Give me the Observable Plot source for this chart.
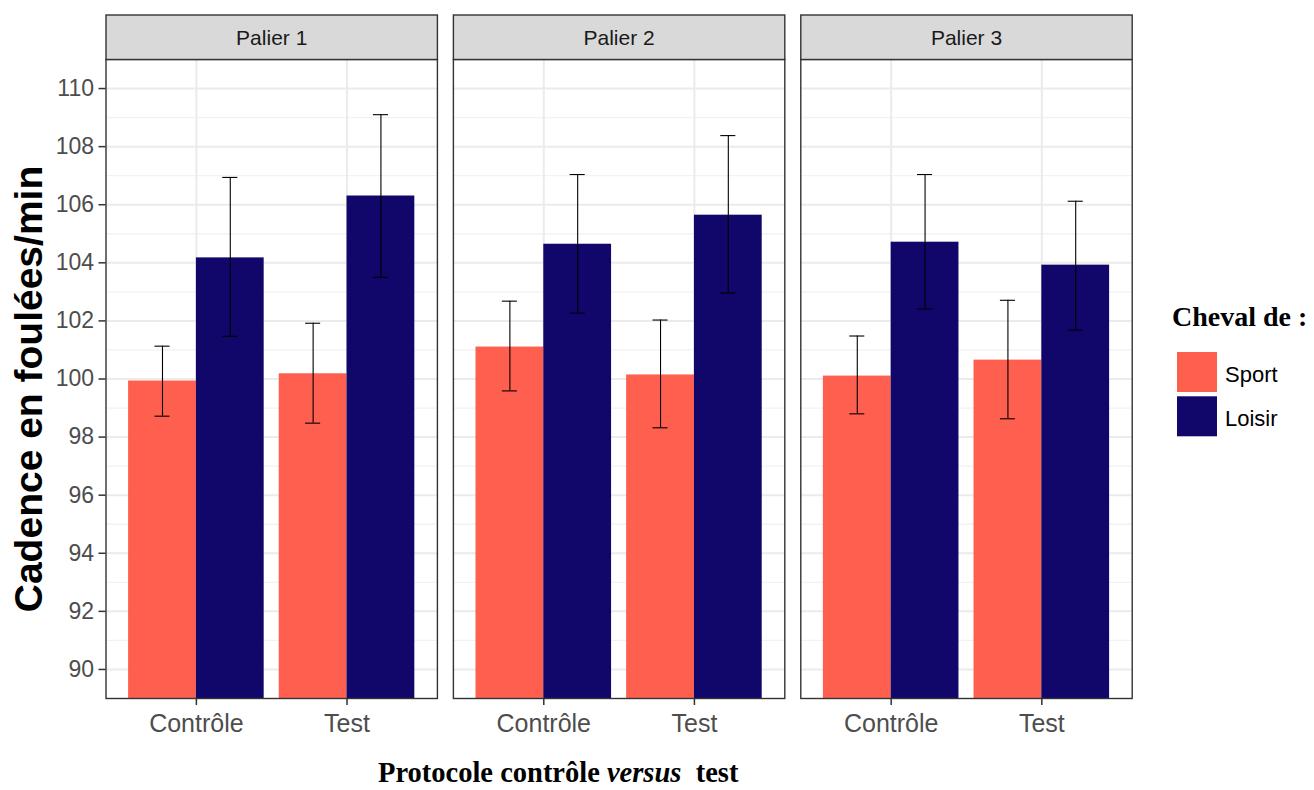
<!DOCTYPE html>
<html>
<head>
<meta charset="utf-8">
<script src="https://cdn.jsdelivr.net/npm/d3@7"></script>
<script src="https://cdn.jsdelivr.net/npm/@observablehq/plot@0.6"></script>
<style>
  html, body { margin: 0; padding: 0; background: #fff; overflow: hidden; }
  #chart svg { display: block; }
</style>
</head>
<body>
<div id="chart"></div>
<script>
// ---- Data ----
const paliers = ["Palier 1", "Palier 2", "Palier 3"];
const protocoles = ["Contrôle", "Test"];
const chevaux = ["Sport", "Loisir"];
const couleurs = ["#ff5f4f", "#110669"];

// order: Palier 1 (Contrôle, Test), Palier 2 (Contrôle, Test), Palier 3 (Contrôle, Test)
const sportMoyenne  = [99.93, 100.18, 101.10, 100.14, 100.10, 100.65];
const sportBas      = [98.72, 98.48, 99.59, 98.32, 98.80, 98.63];
const sportHaut     = [101.13, 101.92, 102.68, 102.03, 101.48, 102.71];
const loisirMoyenne = [104.17, 106.30, 104.64, 105.64, 104.71, 103.92];
const loisirBas     = [101.47, 103.50, 102.27, 102.96, 102.41, 101.68];
const loisirHaut    = [106.94, 109.10, 107.04, 108.38, 107.04, 106.12];

const yTicks = [90, 92, 94, 96, 98, 100, 102, 104, 106, 108, 110];
const yMinor = [91, 93, 95, 97, 99, 101, 103, 105, 107, 109];

// ---- Build table ----
const dodge = 0.45;
const series = {
  Sport:  {m: sportMoyenne, lo: sportBas, hi: sportHaut},
  Loisir: {m: loisirMoyenne, lo: loisirBas, hi: loisirHaut}
};
const rows = [];
paliers.forEach((p, pi) => {
  protocoles.forEach((pr, ji) => {
    chevaux.forEach((c, ci) => {
      const k = pi * protocoles.length + ji;
      const x1 = (ji + 1) + (ci === 0 ? -dodge : 0);
      rows.push({
        palier: p, protocole: pr, cheval: c,
        x1, x2: x1 + dodge, xc: x1 + dodge / 2,
        mean: series[c].m[k], lo: series[c].lo[k], hi: series[c].hi[k]
      });
    });
  });
});

const W = 1314, H = 790;
const mTop = 59, mBottom = 92;
const panelH = H - mTop - mBottom;
const cap = 0.05;

const plot = Plot.plot({
  width: W,
  height: H,
  marginLeft: 105.5,
  marginRight: 182.3,
  marginTop: mTop,
  marginBottom: mBottom,
  style: {fontFamily: "'Liberation Sans', Arial, sans-serif", background: "#fff", color: "#4d4d4d"},
  fx: {domain: paliers, axis: null, paddingInner: 0.046, paddingOuter: 0, round: false},
  x: {domain: [0.4, 2.6]},
  y: {domain: [89, 111]},
  color: {domain: chevaux, range: couleurs},
  marks: [
    Plot.ruleY(yMinor, {stroke: "#f2f2f2", strokeWidth: 1.3}),
    Plot.ruleY(yTicks, {stroke: "#ebebeb", strokeWidth: 2}),
    Plot.ruleX([1, 2], {stroke: "#ebebeb", strokeWidth: 2}),
    Plot.rectY(rows, {fx: "palier", x1: "x1", x2: "x2", y1: 0, y2: "mean", fill: "cheval", clip: true}),
    Plot.ruleX(rows, {fx: "palier", x: "xc", y1: "lo", y2: "hi", stroke: "#000", strokeWidth: 1.1}),
    Plot.ruleY(rows, {fx: "palier", y: "hi", x1: d => d.xc - cap, x2: d => d.xc + cap, stroke: "#000", strokeWidth: 1.1}),
    Plot.ruleY(rows, {fx: "palier", y: "lo", x1: d => d.xc - cap, x2: d => d.xc + cap, stroke: "#000", strokeWidth: 1.1}),
    Plot.frame({stroke: "#333", strokeWidth: 1.4}),
    Plot.frame({fill: "#d9d9d9", stroke: "#333", strokeWidth: 1.4, insetTop: -44.5, insetBottom: panelH}),
    Plot.text(paliers, {fx: d => d, text: d => d, frameAnchor: "top", lineAnchor: "middle", dy: -21.5, fontSize: 21, fill: "#1a1a1a"}),
    Plot.axisY({ticks: yTicks, tickSize: 7, tickPadding: 5, fontSize: 23, label: null, stroke: "#333", strokeWidth: 1.5, fill: "#4d4d4d"}),
    Plot.axisX({ticks: [1, 2], tickFormat: d => protocoles[d - 1], tickSize: 7, tickPadding: 9, fontSize: 25, label: null, stroke: "#333", strokeWidth: 1.5, fill: "#4d4d4d"})
  ]
});

document.getElementById("chart").appendChild(plot);

// ---- Titles and legend (text overlays on the same SVG) ----
const svg = d3.select(plot);

svg.append("text")
  .attr("transform", "translate(42,389) rotate(-90)")
  .attr("text-anchor", "middle")
  .attr("font-family", "'Liberation Sans', Arial, sans-serif")
  .attr("font-weight", "bold")
  .attr("font-size", 39)
  .attr("fill", "#000")
  .text("Cadence en foulées/min");

const xt = svg.append("text")
  .attr("x", 378).attr("y", 781.7)
  .attr("text-anchor", "start")
  .attr("font-family", "'Liberation Serif', 'Times New Roman', serif")
  .attr("font-weight", "bold")
  .attr("font-size", 28.5)
  .attr("fill", "#000")
  .style("white-space", "pre");
xt.append("tspan").text("Protocole contrôle ");
xt.append("tspan").attr("font-style", "italic").text("versus");
xt.append("tspan").text("  test");

svg.append("text")
  .attr("x", 1172).attr("y", 326)
  .attr("text-anchor", "start")
  .attr("font-family", "'Liberation Serif', 'Times New Roman', serif")
  .attr("font-weight", "bold")
  .attr("font-size", 28)
  .attr("fill", "#000")
  .text("Cheval de :");

const leg = svg.append("g").selectAll("g").data(chevaux).join("g")
  .attr("transform", (d, i) => `translate(1177,${352 + i * 44.3})`);
leg.append("rect").attr("width", 40).attr("height", 40)
  .attr("fill", (d, i) => couleurs[i]);
leg.append("text").attr("x", 48).attr("y", 29.7)
  .attr("text-anchor", "start")
  .attr("font-family", "'Liberation Sans', Arial, sans-serif")
  .attr("font-size", 22)
  .attr("fill", "#000")
  .text(d => d);
</script>
</body>
</html>
